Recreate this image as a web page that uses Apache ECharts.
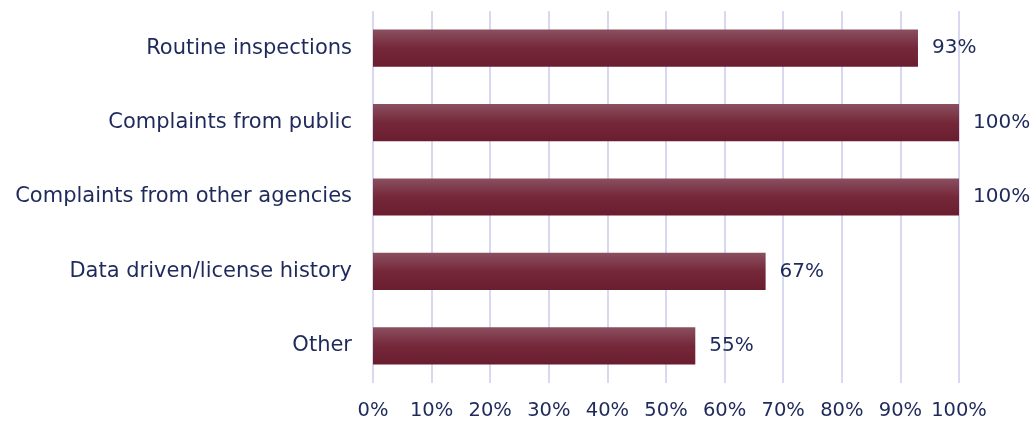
<!DOCTYPE html>
<html><head><meta charset="utf-8">
<script src="https://cdn.jsdelivr.net/npm/echarts@6/dist/echarts.min.js"></script>
<style>html,body{margin:0;padding:0;background:#fff}#c{width:1033px;height:421px}</style>
</head><body><div id="c"></div>
<script>
const categories = ["Routine inspections","Complaints from public","Complaints from other agencies","Data driven/license history","Other"];
const values = [93,100,100,67,55];
const xTicks = [0,10,20,30,40,50,60,70,80,90,100];

const FONT = "DejaVu Sans";
const TXT = "#1f2a5c";
const chart = echarts.init(document.getElementById('c'));
chart.setOption({
  animation:false,
  grid:{left:373,right:74,top:11,bottom:38},
  xAxis:{type:'value',min:0,max:100,interval:10,
    axisLine:{show:false},axisTick:{show:false},
    splitLine:{show:true,lineStyle:{color:'#d8d8f0',width:2}},
    axisLabel:{formatter:v=>v+'%',color:TXT,fontFamily:FONT,fontSize:19.5,margin:18}},
  yAxis:{type:'category',data:categories.slice().reverse(),inverse:false,
    axisLine:{show:false},axisTick:{show:false},
    axisLabel:{color:TXT,fontFamily:FONT,fontSize:21,margin:21}},
  series:[{type:'bar',data:values.slice().reverse(),barWidth:'50%',
    itemStyle:{color:new echarts.graphic.LinearGradient(0,0,0,1,[
      {offset:0,color:'#8a5060'},{offset:0.5,color:'#75283a'},{offset:1,color:'#6a1d2f'}])},
    label:{show:true,position:'right',distance:14,formatter:p=>p.value+'%',
      color:TXT,fontFamily:FONT,fontSize:20}}]
});
</script></body></html>
